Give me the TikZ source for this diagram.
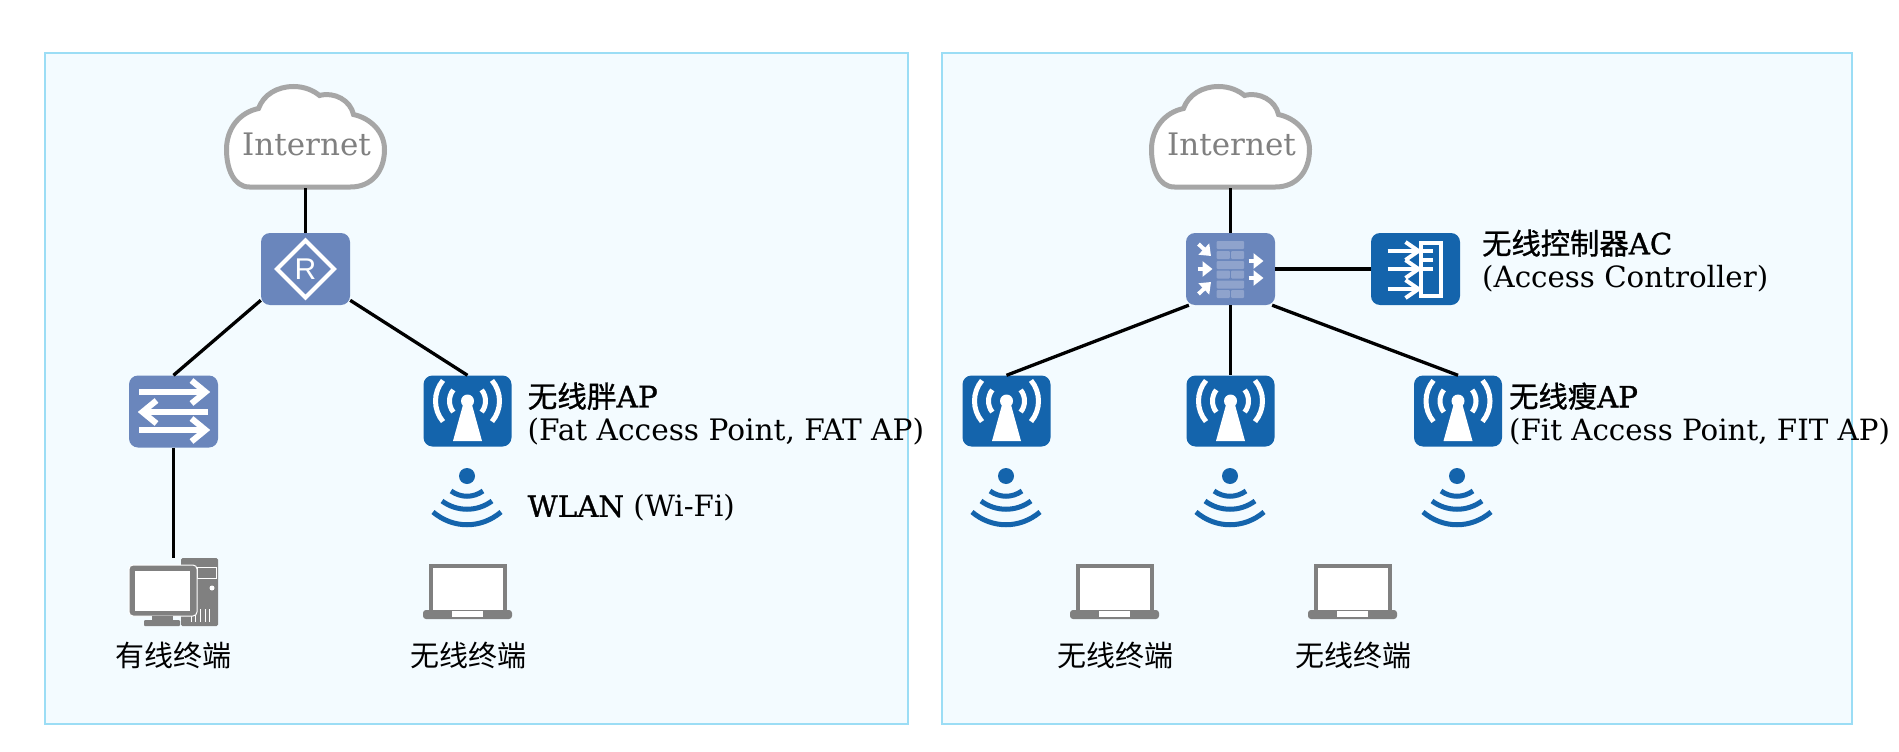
\documentclass[tikz,border=0pt]{standalone}
\usepackage{fontspec}
\setmainfont{DejaVu Serif}
\newfontfamily\cjk{Noto Sans CJK SC}
\newfontfamily\cjkbold[FakeBold=1]{Noto Sans CJK SC}
\newfontfamily\latinbold[FakeBold=1]{DejaVu Serif}
\newfontfamily\routerfont{Liberation Sans}
\usetikzlibrary{arrows.meta,positioning}
\definecolor{panelfill}{RGB}{243,251,255}
\definecolor{panelline}{RGB}{155,221,245}
\definecolor{lightblue}{RGB}{106,134,188}
\definecolor{darkblue}{RGB}{20,100,172}
\definecolor{brick}{RGB}{143,163,204}
\definecolor{termgray}{RGB}{128,128,128}
\definecolor{cloudgray}{RGB}{166,166,166}
\tikzset{
    cloudglyph/.pic={
        \draw[cloudgray, fill=white, line width=5pt] (-56,50.5) .. controls (-72,50.5) and (-79,32) .. (-79,13)
            .. controls (-79,-8) and (-66,-24) .. (-47,-28) .. controls (-42,-42) and (-28,-50) .. (-12,-50)
            .. controls (-1,-50) and (8,-46) .. (14,-41) .. controls (29,-45) and (45,-36) .. (48,-22)
            .. controls (66,-18) and (79,-4) .. (79,13) .. controls (79,35) and (66,50.5) .. (45,50.5) -- cycle;
    },
    routerglyph/.pic={
        \draw[white, line width=4pt] (-28.5,0) -- (0,-28.5) -- (28.5,0) -- (0,28.5) -- cycle;
    },
    switchglyph/.pic={
        \draw[white, line width=6pt] (-34.5,-19.5) -- (31,-19.5);
        \draw[white, line width=6pt] (18,-31) -- (32,-19.5) -- (18,-8);
        \draw[white, line width=6pt] (34.5,0.5) -- (-30,0.5);
        \draw[white, line width=6pt] (-17,-11) -- (-31,0.5) -- (-17,12);
        \draw[white, line width=6pt] (-34.5,18.5) -- (31,18.5);
        \draw[white, line width=6pt] (18,7) -- (32,18.5) -- (18,30);
    },
    apglyph/.pic={
        \fill[white] (0,-10) circle (6.5);
        \fill[white] (-14.5,30) -- (-4,-8) -- (4,-8) -- (14.5,30) -- cycle;
        \foreach \s in {0,180} {
            \draw[white, line width=5pt] (0,-10) ++(\s-38:18) arc[start angle=\s-38, end angle=\s+38, radius=18];
            \draw[white, line width=5pt] (0,-10) ++(\s-40:32) arc[start angle=\s-40, end angle=\s+40, radius=32];
        }
    },
    wifiglyph/.pic={
        \fill[darkblue] (0,-16) circle (8);
        \draw[darkblue, line width=5pt] (-16,-1) .. controls (-6,6) and (6,6) .. (16,-1);
        \draw[darkblue, line width=5pt] (-25,9) .. controls (-10,20) and (10,20) .. (25,9);
        \draw[darkblue, line width=5pt] (-34,20) .. controls (-14,37) and (14,37) .. (34,20);
    },
    laptopglyph/.pic={
        \draw[termgray, fill=white, line width=4pt] (-37,19) -- (-37,-25.5) -- (37,-25.5) -- (37,19);
        \fill[termgray, rounded corners=3pt] (-44.5,18.5) rectangle (44.5,27.5);
        \fill[white] (-15.5,19.5) rectangle (15.5,25.5);
    },
    pcglyph/.pic={
        \fill[termgray, rounded corners=1.5pt] (7.5,-34) rectangle (44.5,34);
        \draw[white, line width=1pt] (23.5,-25) rectangle (42.5,-14);
        \fill[white] (38.5,-4) circle (2.5);
        \foreach \x in {17.5,22,27,31.5,36}
            \draw[white, line width=1pt] (\x,17) -- (\x,30);
        \draw[white, fill=termgray, rounded corners=4pt, line width=1pt] (-44.5,-27) rectangle (23.5,24);
        \fill[white] (-38.5,-21) rectangle (16.5,19);
        \fill[termgray] (-21.5,24) rectangle (-0.5,28);
        \fill[termgray, rounded corners=1pt] (-29.5,28) rectangle (6.5,34);
    },
    firewallglyph/.pic={
        \foreach \y in {-28,-8,11.5}
            \fill[brick, rounded corners=1pt] (-14,\y) rectangle (13.5,\y+8);
        \foreach \y in {-18,1.5,21} {
            \fill[brick, rounded corners=1pt] (-14,\y) rectangle (-0.7,\y+8);
            \fill[brick, rounded corners=1pt] (0.7,\y) rectangle (13.5,\y+8);
        }
        \draw[fwarrow] (-33,0) -- (-18,0);
        \draw[fwarrow] (-32,-25) -- (-19.5,-13);
        \draw[fwarrow] (-32,25) -- (-19.5,13);
        \draw[fwarrow] (18,-8) -- (33,-8);
        \draw[fwarrow] (18,9) -- (33,9);
    },
    acglyph/.pic={
        \draw[white, line width=4pt] (5,-26) -- (25.5,-26) -- (25.5,27) -- (5,27) -- cycle;
        \foreach \y in {-18,-9,0}
            \draw[white, line width=4pt] (4.5,\y) -- (17,\y);
        \foreach \y in {-18,0,20} {
            \draw[white, line width=4pt] (-28,\y) -- (3,\y);
            \draw[white, line width=4pt] (-10,\y-9) -- (3,\y) -- (-10,\y+9);
        }
    }
}
\begin{document}
\begin{tikzpicture}[
    x=1pt, y=-1pt,
    fwarrow/.style={white, line width=4pt, -{Triangle[length=10pt,width=15pt]}},
    panel/.style={draw=panelline, fill=panelfill, line width=2pt},
    lightbox/.style={rectangle, fill=lightblue, rounded corners=9pt, minimum width=89pt, minimum height=72pt, inner sep=0pt},
    darkbox/.style={rectangle, fill=darkblue, rounded corners=9pt, minimum width=88pt, minimum height=71pt, inner sep=0pt},
    spot/.style={rectangle, inner sep=0pt},
    cloudtext/.style={spot, minimum width=161pt, minimum height=88pt, font=\fontsize{31}{36}\selectfont, text=termgray},
    wire/.style={draw=black, line width=3.3pt},
    caption/.style={font=\fontsize{29.3}{33.5}\selectfont, align=left, inner sep=0pt, anchor=west},
    termtext/.style={font=\fontsize{29}{33}\selectfont\cjk, inner sep=0pt}
]
    \useasboundingbox (0,0) rectangle (1899,752);

    % Panels
    \path[panel] (45,53) rectangle (908,724);
    \path[panel] (942,53) rectangle (1852,724);

    % Left network
    \pic at (305.5,136.5) {cloudglyph};
    \node[cloudtext] (cloudl) at (306.5,144) {Internet};
    \node[lightbox, text=white, font=\fontsize{30}{33}\selectfont\routerfont] (router) at (305.5,269) {R};
    \node[lightbox] (switch) at (173.5,411.5) {};
    \node[darkbox] (fatap) at (467.5,411) {};
    \node[spot, minimum width=89pt, minimum height=68pt] (pc) at (173.5,592) {};
    \node[spot, minimum width=89pt, minimum height=55pt] (laptopl) at (467.5,591.5) {};
    \pic at (router) {routerglyph};
    \pic at (switch) {switchglyph};
    \pic at (fatap) {apglyph};
    \pic at (467,492) {wifiglyph};
    \pic at (pc) {pcglyph};
    \pic at (laptopl) {laptopglyph};

    \node[termtext] (pctext) at (173.5,655) {有线终端};
    \node[termtext] (laptoplt) at (468,655) {无线终端};
    \node[caption, font=\fontsize{29.6}{33.5}\selectfont] (fattext) at (527.5,414) {{\cjkbold 无线胖}{\latinbold AP}\\(Fat Access Point, FAT AP)};
    \node[caption] (wlantext) at (527.5,508) {{\latinbold WLAN} (Wi-Fi)};

    \draw[wire] (cloudl.south -| router) -- (router);
    \draw[wire] (router.215) -- (switch.north);
    \draw[wire] (router.325) -- (fatap.north);
    \draw[wire] (switch) -- (pc.north);

    % Right network
    \pic at (1230.5,136.5) {cloudglyph};
    \node[cloudtext] (cloudr) at (1231.5,144) {Internet};
    \node[lightbox] (firewall) at (1230.5,269) {};
    \node[darkbox, minimum width=89pt, minimum height=72pt] (ac) at (1415.5,269) {};
    \node[darkbox] (fita) at (1006.5,411) {};
    \node[darkbox] (fitb) at (1230.5,411) {};
    \node[darkbox] (fitc) at (1458,411) {};
    \node[spot, minimum width=89pt, minimum height=55pt] (laptopa) at (1114.5,591.5) {};
    \node[spot, minimum width=89pt, minimum height=55pt] (laptopb) at (1352.5,591.5) {};
    \pic at (firewall) {firewallglyph};
    \pic at (ac) {acglyph};
    \pic at (fita) {apglyph};
    \pic at (fitb) {apglyph};
    \pic at (fitc) {apglyph};
    \pic at (1006,492) {wifiglyph};
    \pic at (1230,492) {wifiglyph};
    \pic at (1457,492) {wifiglyph};
    \pic at (laptopa) {laptopglyph};
    \pic at (laptopb) {laptopglyph};

    \node[termtext] (laptopat) at (1115,655) {无线终端};
    \node[termtext] (laptopbt) at (1353,655) {无线终端};
    \node[caption] (actext) at (1482,261) {{\cjkbold 无线控制器}{\latinbold AC}\\(Access Controller)};
    \node[caption] (fittext) at (1509,414) {{\cjkbold 无线瘦}{\latinbold AP}\\(Fit Access Point, FIT AP)};

    \draw[wire] (cloudr.south -| firewall) -- (firewall);
    \draw[wire] (firewall) -- (ac);
    \draw[wire] (firewall.221) -- (fita.north);
    \draw[wire] (firewall) -- (fitb);
    \draw[wire] (firewall.319) -- (fitc.north);
\end{tikzpicture}
\end{document}
